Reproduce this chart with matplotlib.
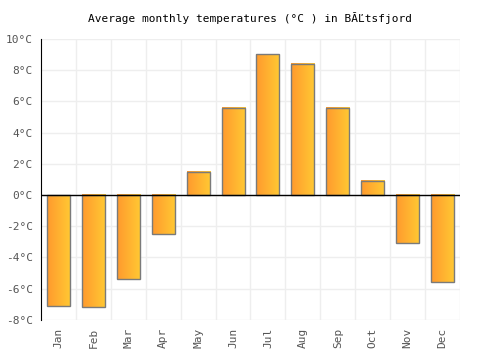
import numpy as np
import matplotlib.pyplot as plt
from matplotlib.colors import LinearSegmentedColormap

months = ['Jan', 'Feb', 'Mar', 'Apr', 'May', 'Jun', 'Jul', 'Aug', 'Sep', 'Oct', 'Nov', 'Dec']
temps = [-7.1, -7.2, -5.4, -2.5, 1.5, 5.6, 9.0, 8.4, 5.6, 0.9, -3.1, -5.6]
yticks = [-8, -6, -4, -2, 0, 2, 4, 6, 8, 10]

plt.rcParams['font.family'] = 'DejaVu Sans Mono'

fig = plt.figure(figsize=(5, 3.5), dpi=100)
ax = fig.add_axes([0.082, 0.086, 0.838, 0.803])

x = np.arange(len(months))
w = 0.66
bars = ax.bar(x, temps, width=w, facecolor='none', edgecolor='#7a7a7a', linewidth=1, zorder=4)

# orange -> yellow gradient inside each bar
cmap = LinearSegmentedColormap.from_list('og', ['#ff9a2e', '#ffc933'])
grad = np.linspace(0, 1, 64).reshape(1, -1)
for xi, t in zip(x, temps):
    ax.imshow(grad, cmap=cmap, aspect='auto', zorder=3,
              extent=[xi - w / 2, xi + w / 2, min(0, t), max(0, t)])

ax.set_xlim(-0.5, 11.5)
ax.set_ylim(-8, 10)
ax.set_yticks(yticks)
ax.set_yticklabels([f'{v}°C' for v in yticks])
ax.set_xticks(x)
ax.set_xticklabels(months, rotation=90)

ax.grid(False)
for b in np.arange(0.5, 12, 1):
    ax.axvline(b, color='#eeeeee', linewidth=1, zorder=1)
for v in yticks:
    ax.axhline(v, color='#eeeeee', linewidth=1, zorder=1)
ax.axhline(0, color='black', linewidth=1, zorder=5)

for s in ['top', 'right', 'bottom']:
    ax.spines[s].set_visible(False)
ax.spines['left'].set_color('black')
ax.tick_params(axis='both', which='both', length=0, labelsize=8, colors='#555555', pad=6)

ax.set_title('Average monthly temperatures (°C ) in B\u0102\u013dtsfjord', fontsize=8, pad=12)

fig.savefig('out.png')
